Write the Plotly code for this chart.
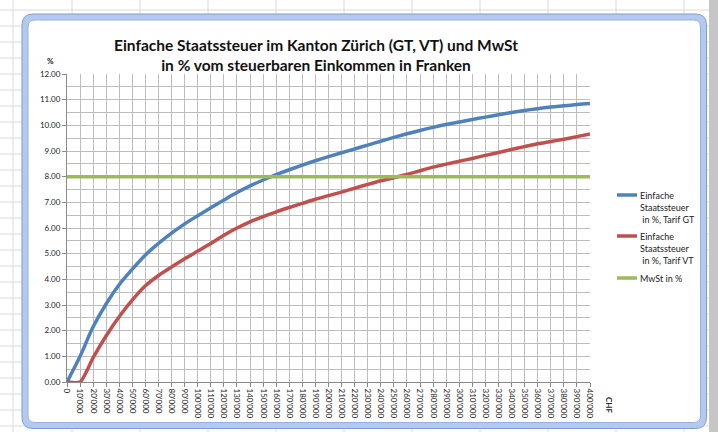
import plotly.graph_objects as go

# Taxable income in CHF (category axis, one step per 10'000)
incomes = list(range(0, 400001, 10000))
income_labels = [f"{v:,}".replace(",", "'") for v in incomes]

# Einfache Staatssteuer in % of taxable income, Grundtarif (GT)
tarif_gt = [0.0, 1.0, 2.15, 3.05, 3.8, 4.4, 4.95, 5.4, 5.8, 6.16, 6.48,
            6.79, 7.09, 7.38, 7.64, 7.87, 8.08, 8.27, 8.45, 8.62, 8.78,
            8.93, 9.08, 9.23, 9.38, 9.53, 9.67, 9.8, 9.92, 10.03, 10.13,
            10.23, 10.32, 10.41, 10.5, 10.58, 10.65, 10.71, 10.76, 10.81, 10.85]

# Einfache Staatssteuer in % of taxable income, Verheiratetentarif (VT)
tarif_vt = [0.0, 0.0, 0.95, 1.8, 2.55, 3.2, 3.75, 4.15, 4.48, 4.8, 5.1,
            5.4, 5.72, 6.0, 6.24, 6.44, 6.63, 6.8, 6.96, 7.12, 7.26,
            7.4, 7.55, 7.7, 7.84, 7.96, 8.09, 8.23, 8.37, 8.49, 8.6,
            8.71, 8.83, 8.94, 9.06, 9.17, 9.28, 9.37, 9.46, 9.56, 9.66]

# Mehrwertsteuer rate in %
mwst = [8.0, 8.0, 8.0, 8.0, 8.0, 8.0, 8.0, 8.0, 8.0, 8.0, 8.0,
        8.0, 8.0, 8.0, 8.0, 8.0, 8.0, 8.0, 8.0, 8.0, 8.0,
        8.0, 8.0, 8.0, 8.0, 8.0, 8.0, 8.0, 8.0, 8.0, 8.0,
        8.0, 8.0, 8.0, 8.0, 8.0, 8.0, 8.0, 8.0, 8.0, 8.0]

series_names = ["Einfache Staatssteuer in %, Tarif GT",
                "Einfache Staatssteuer in %, Tarif VT",
                "MwSt in %"]
legend_lines = [["Einfache", "Staatssteuer", " in %, Tarif GT"],
                ["Einfache", "Staatssteuer", " in %, Tarif VT"],
                ["MwSt in %"]]
colors = ["#4f81bd", "#c0504d", "#9bbb59"]
smoothing = [1.0, 0.6, 0.0]

W, H = 718, 432
L, R, T, B = 67, 128, 74, 50
PW = W - L - R
PH = H - T - B
FONT = "Lato"


def px(x):
    return (x - L) / PW


def py(y):
    return (H - B - y) / PH


def rounded_path(x0, y0, x1, y1, r):
    return (f"M {px(x0 + r)},{py(y0)} L {px(x1 - r)},{py(y0)} "
            f"Q {px(x1)},{py(y0)} {px(x1)},{py(y0 + r)} "
            f"L {px(x1)},{py(y1 - r)} Q {px(x1)},{py(y1)} {px(x1 - r)},{py(y1)} "
            f"L {px(x0 + r)},{py(y1)} Q {px(x0)},{py(y1)} {px(x0)},{py(y1 - r)} "
            f"L {px(x0)},{py(y0 + r)} Q {px(x0)},{py(y0)} {px(x0 + r)},{py(y0)} Z")


fig = go.Figure()
for name, vals, col, sm in zip(series_names, [tarif_gt, tarif_vt, mwst], colors, smoothing):
    line = dict(color=col, width=3.5)
    if sm > 0:
        line.update(shape="spline", smoothing=sm)
    fig.add_trace(go.Scatter(
        x=incomes, y=vals, name=name, mode="lines",
        line=line, cliponaxis=False, showlegend=False,
    ))

shapes = []
# spreadsheet cells behind the chart object
for yy in range(10, H, 16):
    shapes.append(dict(type="line", xref="paper", yref="paper", layer="below",
                       x0=px(0), x1=px(W), y0=py(yy), y1=py(yy),
                       line=dict(color="#dadada", width=1)))
for xx in [13] + list(range(72, W, 68)):
    shapes.append(dict(type="line", xref="paper", yref="paper", layer="below",
                       x0=px(xx), x1=px(xx), y0=py(0), y1=py(H),
                       line=dict(color="#dadada", width=1)))
# window edge on the right
shapes.append(dict(type="rect", xref="paper", yref="paper", layer="below",
                   x0=px(709), x1=px(W), y0=py(0), y1=py(H),
                   fillcolor="#c6c6c6", line=dict(width=0)))
# chart object frame
shapes.append(dict(type="path", xref="paper", yref="paper", layer="below",
                   path=rounded_path(25, 17, 703.5, 425.5, 9),
                   fillcolor="white", line=dict(color="#b3caee", width=6)))
shapes.append(dict(type="path", xref="paper", yref="paper", layer="below",
                   path=rounded_path(22, 14, 706.5, 428.5, 11),
                   line=dict(color="#7d9dd2", width=1)))
shapes.append(dict(type="path", xref="paper", yref="paper", layer="below",
                   path=rounded_path(28, 20, 700.5, 422.5, 7),
                   line=dict(color="#93b2e2", width=1)))

# legend
legend_y = [195, 236, 278]
annotations = []
for lines, col, y0 in zip(legend_lines, colors, legend_y):
    shapes.append(dict(type="line", xref="paper", yref="paper",
                       x0=px(617), x1=px(637), y0=py(y0), y1=py(y0),
                       line=dict(color=col, width=3.5)))
    for i, txt in enumerate(lines):
        annotations.append(dict(xref="paper", yref="paper", x=px(637.5),
                                y=py(y0 + 12.3 * i), text=txt, showarrow=False,
                                xanchor="left", yanchor="middle",
                                font=dict(family=FONT, size=9, color="#222")))

annotations.append(dict(xref="paper", yref="paper", x=px(50), y=py(61),
                        text="<b>%</b>", showarrow=False, xanchor="center",
                        yanchor="middle", font=dict(family=FONT, size=8, color="#222")))
annotations.append(dict(xref="paper", yref="paper", x=px(609), y=py(405),
                        text="<b>CHF</b>", showarrow=False, textangle=90,
                        xanchor="center", yanchor="middle",
                        font=dict(family=FONT, size=8, color="#222")))

grid = "#bdbdbd"
fig.update_layout(
    width=W, height=H, autosize=False,
    margin=dict(l=L, r=R, t=T, b=B, pad=0, autoexpand=False),
    paper_bgcolor="white", plot_bgcolor="rgba(0,0,0,0)",
    title=dict(text="<b>Einfache Staatssteuer im Kanton Zürich (GT, VT) und MwSt"
                    "<br>in % vom steuerbaren Einkommen in Franken</b>",
               xref="container", yref="container", x=316 / W, y=1 - 51 / H,
               xanchor="center", yanchor="middle",
               font=dict(family=FONT, size=15.5, color="#111")),
    shapes=shapes, annotations=annotations,
    xaxis=dict(range=[0, 400000], tickmode="array", tickvals=incomes,
               ticktext=income_labels, tickangle=90,
               tickfont=dict(family=FONT, size=8, color="#222"),
               showgrid=True, gridcolor=grid, gridwidth=1,
               showline=True, linecolor="#8a8a8a", linewidth=1,
               ticks="outside", ticklen=4, tickcolor="#8a8a8a",
               zeroline=False, fixedrange=True),
    yaxis=dict(range=[0, 12], dtick=1, tickformat=".2f",
               tickfont=dict(family=FONT, size=8, color="#222"),
               showgrid=True, gridcolor=grid, gridwidth=1,
               minor=dict(dtick=0.5, showgrid=True, gridcolor=grid, gridwidth=1),
               showline=True, linecolor="#8a8a8a", linewidth=1,
               ticks="outside", ticklen=4, tickcolor="#8a8a8a",
               zeroline=False, fixedrange=True),
)

fig.write_html("out.html")
